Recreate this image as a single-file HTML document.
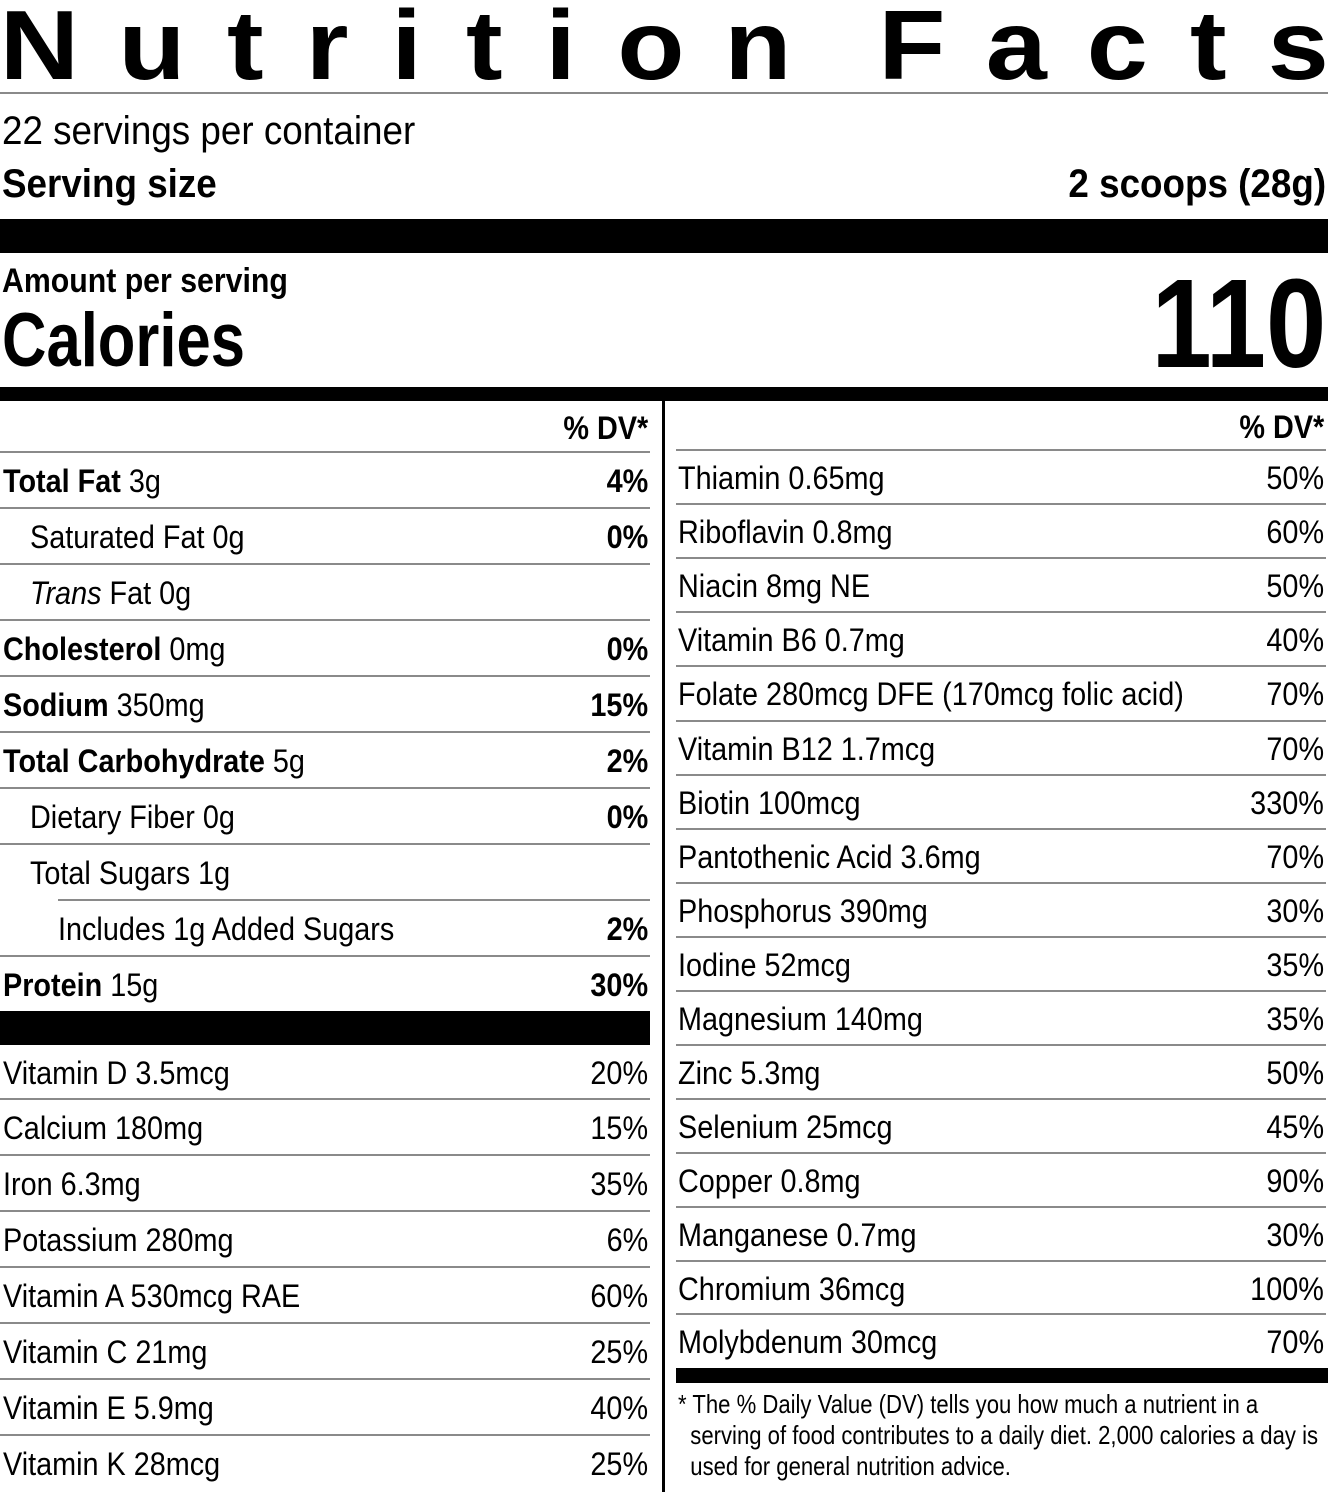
<!DOCTYPE html>
<html><head><meta charset="utf-8"><style>
body{margin:0;background:#fff;}
#p{position:relative;width:1328px;height:1492px;overflow:hidden;background:#fff;color:#000;font-family:"Liberation Sans",sans-serif;}
.a{position:absolute;white-space:nowrap;}
.s{display:inline-block;transform:scaleX(.9);transform-origin:left center;}
.sr{display:inline-block;transform:scaleX(.9);transform-origin:right center;}
.h{transform:scaleX(.92)!important;}
.bar{position:absolute;background:#000;}
.ln{position:absolute;height:2px;background:#8a8a8a;}
.row{position:absolute;display:flex;align-items:center;justify-content:space-between;font-size:32px;box-sizing:border-box;padding-top:3px!important;}
.row b{font-weight:bold;}
#t{position:absolute;left:4px;width:1322px;top:-5px;height:100px;display:flex;justify-content:space-between;font-weight:bold;font-size:98px;line-height:100px;}
#t span{display:inline-block;transform:scaleX(1.12);}
</style></head><body><div id="p">
<div id="t"><span>N</span><span>u</span><span>t</span><span>r</span><span>i</span><span>t</span><span>i</span><span>o</span><span>n</span><span> </span><span>F</span><span>a</span><span>c</span><span>t</span><span>s</span></div>
<div class="ln" style="left:0;top:92px;width:1328px"></div>
<div class="a" style="left:2px;top:111px;font-size:40px;line-height:40px"><span class="s h">22 servings per container</span></div>
<div class="a" style="left:2px;top:164px;font-size:40px;line-height:40px;font-weight:bold"><span class="s h">Serving size</span></div>
<div class="a" style="right:2px;top:164px;font-size:40px;line-height:40px;font-weight:bold"><span class="sr h">2 scoops (28g)</span></div>
<div class="bar" style="left:0;top:219px;width:1328px;height:34px"></div>
<div class="a" style="left:2px;top:263px;font-size:34px;line-height:36px;font-weight:bold"><span class="s" style="transform:scaleX(.89)">Amount per serving</span></div>
<div class="a" style="left:2px;top:302px;font-size:76px;line-height:78px;font-weight:bold"><span class="s" style="transform:scaleX(.81)">Calories</span></div>
<div class="a" style="right:2px;top:264px;font-size:126px;line-height:120px;font-weight:bold"><span class="sr" style="transform:scaleX(.86)">110</span></div>
<div class="bar" style="left:0;top:387px;width:1328px;height:14px"></div>
<div class="bar" style="left:662px;top:401px;width:3px;height:1091px"></div>

<div class="row" style="left:0;top:401px;width:650px;height:51px;padding-right:2px;font-weight:bold"><span></span><span class="sr">% DV*</span></div>
<div class="ln" style="left:0;top:451px;width:650px"></div>
<div class="row" style="left:676px;top:401px;width:650px;height:49px;padding-right:2px;font-weight:bold"><span></span><span class="sr">% DV*</span></div>

<div class="bar" style="left:0;top:1011px;width:650px;height:34px"></div>
<div class="bar" style="left:676px;top:1368px;width:652px;height:15px"></div>
<div class="a" style="left:678px;top:1389px;font-size:26px;line-height:31px"><span class="s" style="transform:scaleX(.85)">* The % Daily Value (DV) tells you how much a nutrient in a<br>&nbsp;&nbsp;serving of food contributes to a daily diet. 2,000 calories a day is<br>&nbsp;&nbsp;used for general nutrition advice.</span></div>

<div class="row" style="left:0;top:452px;width:650px;height:56px;padding:0 2px 0 3px"><span class="s"><b>Total Fat</b> 3g</span><b class="sr">4%</b></div>
<div class="ln" style="left:0;top:507px;width:650px"></div>
<div class="row" style="left:0;top:508px;width:650px;height:56px;padding:0 2px 0 30px"><span class="s">Saturated Fat 0g</span><b class="sr">0%</b></div>
<div class="ln" style="left:0;top:563px;width:650px"></div>
<div class="row" style="left:0;top:564px;width:650px;height:56px;padding:0 2px 0 30px"><span class="s"><i>Trans</i> Fat 0g</span><span></span></div>
<div class="ln" style="left:0;top:619px;width:650px"></div>
<div class="row" style="left:0;top:620px;width:650px;height:56px;padding:0 2px 0 3px"><span class="s"><b>Cholesterol</b> 0mg</span><b class="sr">0%</b></div>
<div class="ln" style="left:0;top:675px;width:650px"></div>
<div class="row" style="left:0;top:676px;width:650px;height:56px;padding:0 2px 0 3px"><span class="s"><b>Sodium</b> 350mg</span><b class="sr">15%</b></div>
<div class="ln" style="left:0;top:731px;width:650px"></div>
<div class="row" style="left:0;top:732px;width:650px;height:56px;padding:0 2px 0 3px"><span class="s"><b>Total Carbohydrate</b> 5g</span><b class="sr">2%</b></div>
<div class="ln" style="left:0;top:787px;width:650px"></div>
<div class="row" style="left:0;top:788px;width:650px;height:56px;padding:0 2px 0 30px"><span class="s">Dietary Fiber 0g</span><b class="sr">0%</b></div>
<div class="ln" style="left:0;top:843px;width:650px"></div>
<div class="row" style="left:0;top:844px;width:650px;height:56px;padding:0 2px 0 30px"><span class="s">Total Sugars 1g</span><span></span></div>
<div class="ln" style="left:58px;top:899px;width:592px"></div>
<div class="row" style="left:0;top:900px;width:650px;height:56px;padding:0 2px 0 58px"><span class="s">Includes 1g Added Sugars</span><b class="sr">2%</b></div>
<div class="ln" style="left:0;top:955px;width:650px"></div>
<div class="row" style="left:0;top:956px;width:650px;height:56px;padding:0 2px 0 3px"><span class="s"><b>Protein</b> 15g</span><b class="sr">30%</b></div>

<div class="row" style="left:0;top:1045px;width:650px;height:54px;padding:0 2px 0 3px"><span class="s">Vitamin D 3.5mcg</span><span class="sr">20%</span></div>
<div class="ln" style="left:0;top:1098px;width:650px"></div>
<div class="row" style="left:0;top:1099px;width:650px;height:56px;padding:0 2px 0 3px"><span class="s">Calcium 180mg</span><span class="sr">15%</span></div>
<div class="ln" style="left:0;top:1154px;width:650px"></div>
<div class="row" style="left:0;top:1155px;width:650px;height:56px;padding:0 2px 0 3px"><span class="s">Iron 6.3mg</span><span class="sr">35%</span></div>
<div class="ln" style="left:0;top:1210px;width:650px"></div>
<div class="row" style="left:0;top:1211px;width:650px;height:56px;padding:0 2px 0 3px"><span class="s">Potassium 280mg</span><span class="sr">6%</span></div>
<div class="ln" style="left:0;top:1266px;width:650px"></div>
<div class="row" style="left:0;top:1267px;width:650px;height:56px;padding:0 2px 0 3px"><span class="s">Vitamin A 530mcg RAE</span><span class="sr">60%</span></div>
<div class="ln" style="left:0;top:1322px;width:650px"></div>
<div class="row" style="left:0;top:1323px;width:650px;height:56px;padding:0 2px 0 3px"><span class="s">Vitamin C 21mg</span><span class="sr">25%</span></div>
<div class="ln" style="left:0;top:1378px;width:650px"></div>
<div class="row" style="left:0;top:1379px;width:650px;height:56px;padding:0 2px 0 3px"><span class="s">Vitamin E 5.9mg</span><span class="sr">40%</span></div>
<div class="ln" style="left:0;top:1434px;width:650px"></div>
<div class="row" style="left:0;top:1435px;width:650px;height:56px;padding:0 2px 0 3px"><span class="s">Vitamin K 28mcg</span><span class="sr">25%</span></div>

<div class="ln" style="left:676px;top:449px;width:650px"></div>
<div class="row" style="left:676px;top:450px;width:650px;height:54px;padding:0 2px"><span class="s">Thiamin 0.65mg</span><span class="sr">50%</span></div>
<div class="ln" style="left:676px;top:503px;width:650px"></div>
<div class="row" style="left:676px;top:504px;width:650px;height:54px;padding:0 2px"><span class="s">Riboflavin 0.8mg</span><span class="sr">60%</span></div>
<div class="ln" style="left:676px;top:557px;width:650px"></div>
<div class="row" style="left:676px;top:558px;width:650px;height:54px;padding:0 2px"><span class="s">Niacin 8mg NE</span><span class="sr">50%</span></div>
<div class="ln" style="left:676px;top:611px;width:650px"></div>
<div class="row" style="left:676px;top:612px;width:650px;height:54px;padding:0 2px"><span class="s">Vitamin B6 0.7mg</span><span class="sr">40%</span></div>
<div class="ln" style="left:676px;top:665px;width:650px"></div>
<div class="row" style="left:676px;top:666px;width:650px;height:54px;padding:0 2px"><span class="s">Folate 280mcg DFE (170mcg folic acid)</span><span class="sr">70%</span></div>
<div class="ln" style="left:676px;top:720px;width:650px"></div>
<div class="row" style="left:676px;top:721px;width:650px;height:54px;padding:0 2px"><span class="s">Vitamin B12 1.7mcg</span><span class="sr">70%</span></div>
<div class="ln" style="left:676px;top:774px;width:650px"></div>
<div class="row" style="left:676px;top:775px;width:650px;height:54px;padding:0 2px"><span class="s">Biotin 100mcg</span><span class="sr">330%</span></div>
<div class="ln" style="left:676px;top:828px;width:650px"></div>
<div class="row" style="left:676px;top:829px;width:650px;height:54px;padding:0 2px"><span class="s">Pantothenic Acid 3.6mg</span><span class="sr">70%</span></div>
<div class="ln" style="left:676px;top:882px;width:650px"></div>
<div class="row" style="left:676px;top:883px;width:650px;height:54px;padding:0 2px"><span class="s">Phosphorus 390mg</span><span class="sr">30%</span></div>
<div class="ln" style="left:676px;top:936px;width:650px"></div>
<div class="row" style="left:676px;top:937px;width:650px;height:54px;padding:0 2px"><span class="s">Iodine 52mcg</span><span class="sr">35%</span></div>
<div class="ln" style="left:676px;top:990px;width:650px"></div>
<div class="row" style="left:676px;top:991px;width:650px;height:54px;padding:0 2px"><span class="s">Magnesium 140mg</span><span class="sr">35%</span></div>
<div class="ln" style="left:676px;top:1044px;width:650px"></div>
<div class="row" style="left:676px;top:1045px;width:650px;height:54px;padding:0 2px"><span class="s">Zinc 5.3mg</span><span class="sr">50%</span></div>
<div class="ln" style="left:676px;top:1098px;width:650px"></div>
<div class="row" style="left:676px;top:1099px;width:650px;height:54px;padding:0 2px"><span class="s">Selenium 25mcg</span><span class="sr">45%</span></div>
<div class="ln" style="left:676px;top:1152px;width:650px"></div>
<div class="row" style="left:676px;top:1153px;width:650px;height:54px;padding:0 2px"><span class="s">Copper 0.8mg</span><span class="sr">90%</span></div>
<div class="ln" style="left:676px;top:1206px;width:650px"></div>
<div class="row" style="left:676px;top:1207px;width:650px;height:54px;padding:0 2px"><span class="s">Manganese 0.7mg</span><span class="sr">30%</span></div>
<div class="ln" style="left:676px;top:1260px;width:650px"></div>
<div class="row" style="left:676px;top:1261px;width:650px;height:54px;padding:0 2px"><span class="s">Chromium 36mcg</span><span class="sr">100%</span></div>
<div class="ln" style="left:676px;top:1313px;width:650px"></div>
<div class="row" style="left:676px;top:1314px;width:650px;height:54px;padding:0 2px"><span class="s">Molybdenum 30mcg</span><span class="sr">70%</span></div>
</div></body></html>
